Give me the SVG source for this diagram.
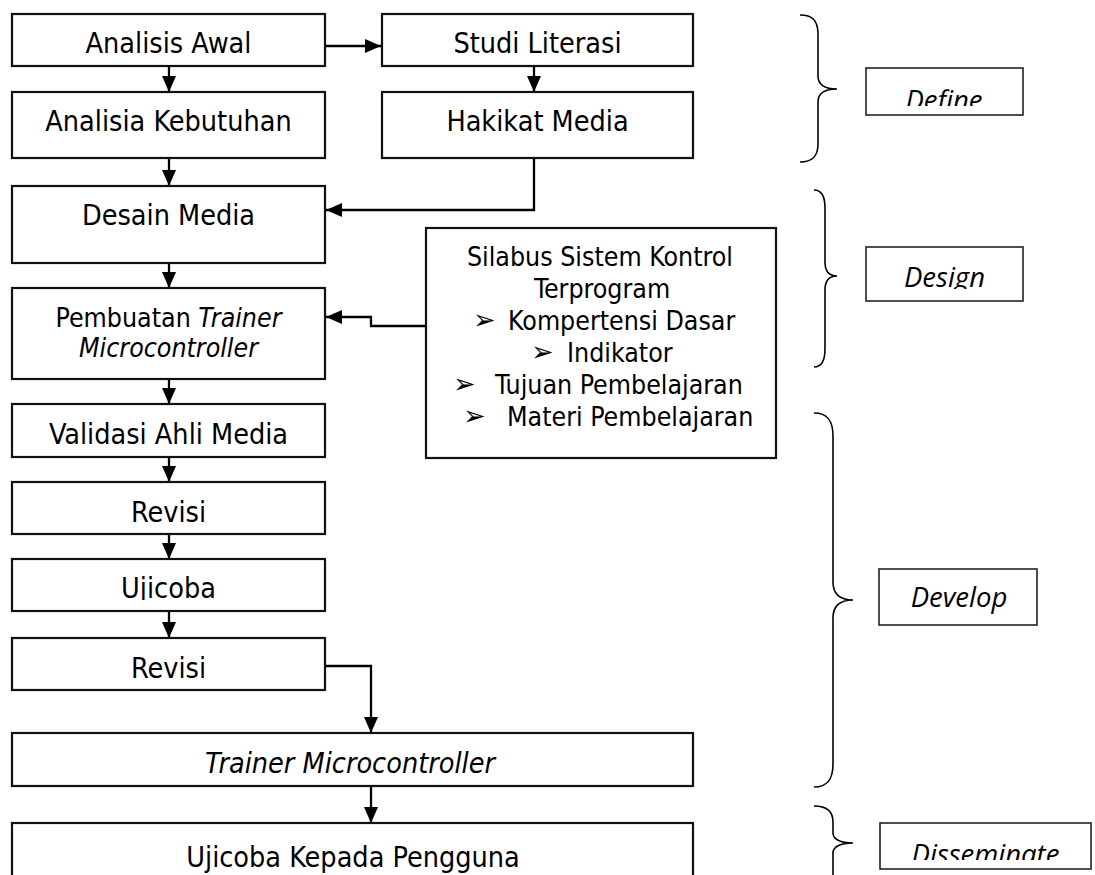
<svg xmlns="http://www.w3.org/2000/svg" width="1095" height="875" viewBox="0 0 1095 875">
<defs>
<style>
.box{fill:#fff;stroke:#111;stroke-width:2.2}
.ph{fill:#fff;stroke:#222;stroke-width:1.6}
.t{font-family:"DejaVu Sans Condensed","DejaVu Sans",sans-serif;font-stretch:condensed;font-size:28.5px;fill:#000;text-anchor:middle}
.s{font-family:"DejaVu Sans Condensed","DejaVu Sans",sans-serif;font-stretch:condensed;font-size:26.5px;fill:#000}
.b{font-family:"DejaVu Sans",sans-serif;font-size:27px;fill:#000}
.p{font-family:"Open Sans",sans-serif;font-style:italic;font-size:27.5px;fill:#000;text-anchor:middle}
.c{fill:none;stroke:#000;stroke-width:2.3}
.br{fill:none;stroke:#000;stroke-width:1.6}
</style>
<marker id="ah" viewBox="0 0 16 14" refX="16" refY="7" markerWidth="16" markerHeight="14" markerUnits="userSpaceOnUse" orient="auto">
<path d="M0,0 L16,7 L0,14 z" fill="#000"/>
</marker>
<clipPath id="cDef"><rect x="866" y="68" width="157" height="38"/></clipPath>
<clipPath id="cDes"><rect x="866" y="247" width="157" height="42"/></clipPath>
<clipPath id="cDis"><rect x="880" y="823" width="211" height="37"/></clipPath>
<clipPath id="cUji"><rect x="12" y="559" width="313" height="41"/></clipPath>
</defs>

<g id="connectors">
<path class="c" d="M325,46 H381" marker-end="url(#ah)"/>
<path class="c" d="M169,66 V92" marker-end="url(#ah)"/>
<path class="c" d="M534,66 V92" marker-end="url(#ah)"/>
<path class="c" d="M169,158 V186" marker-end="url(#ah)"/>
<path class="c" d="M534,158 V210 H326" marker-end="url(#ah)"/>
<path class="c" d="M169,263 V288" marker-end="url(#ah)"/>
<path class="c" d="M426,326 H371 V317 H326" marker-end="url(#ah)"/>
<path class="c" d="M169,379 V404" marker-end="url(#ah)"/>
<path class="c" d="M169,457 V482" marker-end="url(#ah)"/>
<path class="c" d="M169,534 V559" marker-end="url(#ah)"/>
<path class="c" d="M169,611 V638" marker-end="url(#ah)"/>
<path class="c" d="M325,666 H371 V733" marker-end="url(#ah)"/>
<path class="c" d="M371,786 V823" marker-end="url(#ah)"/>
</g>

<g id="analisis-awal"><rect class="box" x="12" y="14" width="313" height="52"/><text class="t" x="168.5" y="53">Analisis Awal</text></g>
<g id="studi-literasi"><rect class="box" x="382" y="14" width="311" height="52"/><text class="t" x="537.5" y="53">Studi Literasi</text></g>
<g id="analisia-kebutuhan"><rect class="box" x="12" y="92" width="313" height="66"/><text class="t" x="168.5" y="131">Analisia Kebutuhan</text></g>
<g id="hakikat-media"><rect class="box" x="382" y="92" width="311" height="66"/><text class="t" x="537.5" y="131">Hakikat Media</text></g>
<g id="desain-media"><rect class="box" x="12" y="186" width="313" height="77"/><text class="t" x="168.5" y="225">Desain Media</text></g>
<g id="pembuatan"><rect class="box" x="12" y="288" width="313" height="91"/>
<text class="t" style="font-size:26.5px" x="168.5" y="327">Pembuatan <tspan font-style="italic">Trainer</tspan></text>
<text class="t" style="font-size:26.5px;font-style:italic" x="168.5" y="357">Microcontroller</text></g>
<g id="silabus"><rect class="box" x="426" y="228" width="350" height="230"/>
<text class="s" x="600" y="266" text-anchor="middle">Silabus Sistem Kontrol</text>
<text class="s" x="602" y="298" text-anchor="middle">Terprogram</text>
<text class="b" x="473" y="329">➢</text><text class="s" x="508" y="330">Kompertensi Dasar</text>
<text class="b" x="531" y="361">➢</text><text class="s" x="567" y="362">Indikator</text>
<text class="b" x="453" y="393">➢</text><text class="s" x="495" y="394">Tujuan Pembelajaran</text>
<text class="b" x="463" y="425">➢</text><text class="s" x="507" y="426">Materi Pembelajaran</text>
</g>
<g id="validasi"><rect class="box" x="12" y="404" width="313" height="53"/><text class="t" x="168.5" y="444">Validasi Ahli Media</text></g>
<g id="revisi-1"><rect class="box" x="12" y="482" width="313" height="52"/><text class="t" x="168.5" y="522">Revisi</text></g>
<g id="ujicoba"><rect class="box" x="12" y="559" width="313" height="52"/><text class="t" x="168.5" y="598" clip-path="url(#cUji)">Ujicoba</text></g>
<g id="revisi-2"><rect class="box" x="12" y="638" width="313" height="52"/><text class="t" x="168.5" y="678">Revisi</text></g>
<g id="trainer"><rect class="box" x="12" y="733" width="681" height="53"/><text class="t" style="font-style:italic" x="350" y="773">Trainer Microcontroller</text></g>
<g id="ujicoba-pengguna"><rect class="box" x="12" y="823" width="681" height="70"/><text class="t" x="353" y="867">Ujicoba Kepada Pengguna</text></g>

<g id="phase-define">
<path class="br" d="M800,15 C812,15 818,20 818,34 V76 C818,85 824,89 837,89 C824,89 818,93 818,102 V144 C818,157 812,162 800,162"/>
<rect class="ph" x="866" y="68" width="157" height="47"/>
<text class="p" x="944" y="110" clip-path="url(#cDef)">Define</text>
</g>
<g id="phase-design">
<path class="br" d="M814,190 C821,190 825,196 825,208 V262 C825,271 829,276 837,276 C829,276 825,281 825,290 V349 C825,361 821,367 814,367"/>
<rect class="ph" x="866" y="247" width="157" height="54"/>
<text class="p" x="944.5" y="287" clip-path="url(#cDes)">Design</text>
</g>
<g id="phase-develop">
<path class="br" d="M814,413 C827,413 833,420 833,436 V582 C833,594 840,600 853,600 C840,600 833,606 833,618 V764 C833,780 827,787 814,787"/>
<rect class="ph" x="879" y="569" width="158" height="56"/>
<text class="p" x="959" y="607">Develop</text>
</g>
<g id="phase-disseminate">
<path class="br" d="M814,806 C827,806 833,811 833,822 V833 C833,839 840,843 853,843 C840,843 833,847 833,853 V880"/>
<rect class="ph" x="880" y="823" width="211" height="46"/>
<text class="p" x="985.5" y="864" clip-path="url(#cDis)">Disseminate</text>
</g>
</svg>
